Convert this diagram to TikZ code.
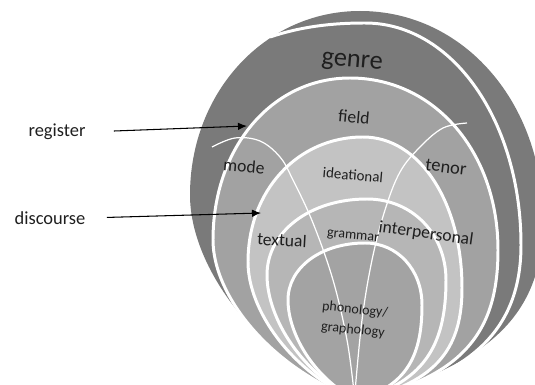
\documentclass[tikz,border=0pt]{standalone}
\usepackage{fontspec}
\setmainfont{Carlito}
\usetikzlibrary{arrows.meta}

\definecolor{genregray}{RGB}{122,122,122}
\definecolor{fieldgray}{RGB}{162,162,162}
\definecolor{idealgray}{RGB}{195,195,195}
\definecolor{grammgray}{RGB}{182,182,182}
\definecolor{phongray}{RGB}{163,163,163}

\begin{document}
\begin{tikzpicture}[x=0.02cm,y=-0.02cm,
    layer/.style={draw=white,line width=1.7pt},
    divider/.style={draw=white,line width=0.7pt},
    lbl/.style={text=black!88,inner sep=1pt},
    pointer/.style={-{Latex[length=1.8mm,width=1.5mm]},line width=0.6pt}]

\useasboundingbox (0,0) rectangle (535,385);
\clip (0,0) rectangle (535,385);

% outer genre shape
\path[fill=genregray] (357,400)
  .. controls (257,359) and (190,267) .. (190,195)
  .. controls (190,92) and (265,11) .. (360,11)
  .. controls (464,11) and (543,103) .. (543,220)
  .. controls (543,310) and (496,364) .. (357,400);

% its inner rim
\draw[layer] (270,37)
  .. controls (300,27) and (330,23) .. (365,23)
  .. controls (453,23) and (521,122) .. (521,245)
  .. controls (521,322) and (480,377) .. (357,400);

% nested layers: left x/y, top x/y, right x/y, colour
\foreach \xl/\yl/\xt/\yt/\xr/\yr/\col in {
    213/240/350/78/498/250/fieldgray,
    248/262/363/137/462/288/idealgray,
    267/275/367/199/446/280/grammgray,
    288/300/365/243/422/305/phongray} {
  \path[layer,fill=\col] (357,400)
    .. controls ({357-0.6*(357-\xl)},{400-0.2*(400-\yl)}) and (\xl,{\yl+0.35*(400-\yl)}) .. (\xl,\yl)
    .. controls (\xl,{\yl-0.57*(\yl-\yt)}) and ({\xt-0.57*(\xt-\xl)},\yt) .. (\xt,\yt)
    .. controls ({\xt+0.57*(\xr-\xt)},\yt) and (\xr,{\yr-0.57*(\yr-\yt)}) .. (\xr,\yr)
    .. controls (\xr,{\yr+0.5*(400-\yr)}) and ({357+0.8*(\xr-357)},{400-0.15*(400-\yr)}) .. (357,400);
}

% the two dividing curves
\draw[divider] plot[smooth,tension=0.6] coordinates {(212,147) (235,138) (260,141) (280,157) (293,180) (313,223) (333,280) (347,340) (354,392)};
\draw[divider] plot[smooth,tension=0.6] coordinates {(467,123) (443,128) (420,147) (400,172) (385,210) (372,260) (362,320) (355,392)};

% labels
\node[lbl,font=\fontsize{15}{17}\selectfont,rotate=-5] (genre) at (352,63) {genre};
\node[lbl,font=\fontsize{10}{12}\selectfont,rotate=-5] (field) at (354,117) {field};
\node[lbl,font=\fontsize{10}{12}\selectfont,rotate=-5] (mode) at (244,166) {mode};
\node[lbl,font=\fontsize{10.5}{12}\selectfont,rotate=-7] (tenor) at (446,167) {tenor};
\node[lbl,font=\fontsize{8.5}{10}\selectfont,rotate=-5] (ideational) at (353,175) {ideational};
\node[lbl,font=\fontsize{10}{12}\selectfont,rotate=-3] (textual) at (282,240) {textual};
\node[lbl,font=\fontsize{8}{10}\selectfont,rotate=-5] (grammar) at (353,237) {grammar};
\node[lbl,font=\fontsize{10}{12}\selectfont,rotate=-8] (interpersonal) at (426,234) {interpersonal};
\node[lbl,font=\fontsize{8}{11.5}\selectfont,rotate=-6,align=center] (phonology) at (354,320) {phonology/\\graphology};

% pointers from the left
\node[lbl,font=\fontsize{10.5}{12}\selectfont] (register) at (57,132) {register};
\node[lbl,font=\fontsize{10.5}{12}\selectfont] (discourse) at (50,218) {discourse};
\coordinate (regtip) at (247,126);
\coordinate (distip) at (261,213);
\draw[pointer,shorten <=15pt] (register.east) -- (regtip);
\draw[pointer,shorten <=11pt] (discourse.east) -- (distip);

\end{tikzpicture}
\end{document}
